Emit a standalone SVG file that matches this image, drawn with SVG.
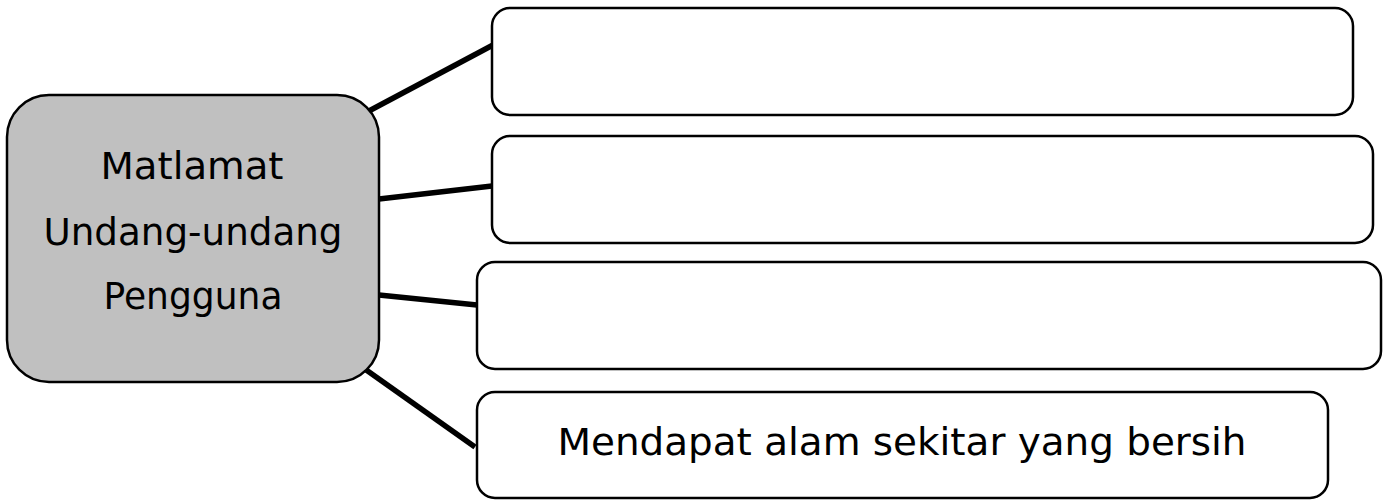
<svg xmlns="http://www.w3.org/2000/svg" width="1389" height="500" viewBox="0 0 1389 500">
<style>
.box{fill:#ffffff;stroke:#000;stroke-width:2.5}
.main{fill:#c0c0c0;stroke:#000;stroke-width:2.5}
.conn{stroke:#000;stroke-width:5.5;fill:none}
text{font-family:"DejaVu Sans","Noto Sans",sans-serif;font-size:37px;fill:#000;text-anchor:middle}
</style>
<rect width="1389" height="500" fill="#fff"/>
<g id="connectors">
<line class="conn" x1="367" y1="112" x2="493" y2="45"/>
<line class="conn" x1="379" y1="199" x2="492" y2="186"/>
<line class="conn" x1="379" y1="295" x2="477" y2="305"/>
<line class="conn" x1="362" y1="367" x2="475" y2="447"/>
</g>
<g id="main">
<rect class="main" x="7" y="95" width="372" height="287" rx="42" ry="42"/>
<text x="192" y="179" textLength="183" lengthAdjust="spacingAndGlyphs">Matlamat</text>
<text x="193" y="245" textLength="299" lengthAdjust="spacingAndGlyphs">Undang-undang</text>
<text x="193" y="309" textLength="179" lengthAdjust="spacingAndGlyphs">Pengguna</text>
</g>
<g id="box1">
<rect class="box" x="492" y="8" width="861" height="107" rx="18" ry="18"/>
</g>
<g id="box2">
<rect class="box" x="492" y="136" width="881" height="107" rx="18" ry="18"/>
</g>
<g id="box3">
<rect class="box" x="477" y="262" width="904" height="107" rx="18" ry="18"/>
</g>
<g id="box4">
<rect class="box" x="477" y="392" width="851" height="106" rx="18" ry="18"/>
<text x="902" y="455" textLength="689" lengthAdjust="spacingAndGlyphs">Mendapat alam sekitar yang bersih</text>
</g>
</svg>
